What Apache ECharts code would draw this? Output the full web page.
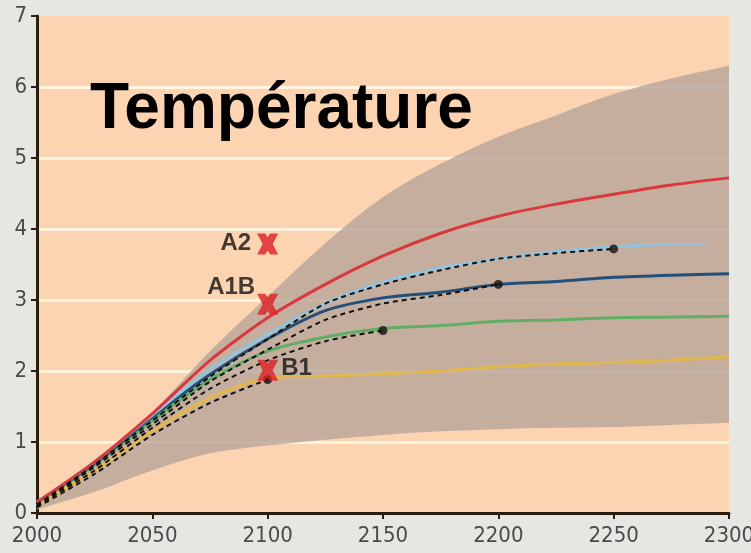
<!DOCTYPE html>
<html lang="fr">
<head>
    <meta charset="UTF-8">
    <title>Température</title>
    <script src="https://cdn.jsdelivr.net/npm/echarts@6/dist/echarts.min.js"></script>
    <style>
        * { margin: 0; padding: 0; box-sizing: border-box; }
        body { background: #e6e6e2; }
        #chart { width: 751px; height: 553px; }
    </style>
</head>
<body>
    <div id="chart"></div>
    <script>
        // données
        const years = [2000, 2025, 2050, 2075, 2100, 2125, 2150, 2175, 2200, 2225, 2250, 2275, 2300];
        const bandLow  = [0.05, 0.3, 0.6, 0.84, 0.95, 1.03, 1.1, 1.15, 1.18, 1.2, 1.21, 1.24, 1.27];
        const bandHigh = [0.18, 0.75, 1.42, 2.28, 3.05, 3.8, 4.45, 4.92, 5.3, 5.6, 5.9, 6.12, 6.3];

        const red      = [0.15, 0.72, 1.4, 2.15, 2.75, 3.22, 3.62, 3.94, 4.18, 4.35, 4.49, 4.62, 4.72];
        const darkBlue = [0.15, 0.7, 1.35, 1.95, 2.45, 2.85, 3.03, 3.11, 3.22, 3.26, 3.32, 3.35, 3.37];
        const green    = [0.15, 0.68, 1.3, 1.88, 2.28, 2.48, 2.6, 2.64, 2.7, 2.72, 2.75, 2.76, 2.77];
        const yellow   = [0.1, 0.6, 1.15, 1.62, 1.9, 1.93, 1.96, 2.0, 2.06, 2.1, 2.12, 2.15, 2.2];

        const lightBlueYears = [2000, 2025, 2050, 2075, 2100, 2125, 2150, 2175, 2200, 2225, 2250, 2275, 2290];
        const lightBlue = [0.15, 0.72, 1.38, 2.02, 2.52, 2.95, 3.25, 3.45, 3.58, 3.68, 3.75, 3.78, 3.78];

        const dash2250 = [0.12, 0.68, 1.3, 1.92, 2.45, 2.95, 3.22, 3.42, 3.58, 3.66, 3.72];
        const dash2200 = [0.1, 0.65, 1.25, 1.85, 2.3, 2.72, 2.95, 3.07, 3.22];
        const dash2150 = [0.1, 0.6, 1.2, 1.75, 2.15, 2.42, 2.57];
        const dash2100 = [0.08, 0.55, 1.1, 1.55, 1.88];

        const scenarios = ['A2', 'A1B', 'B1'];
        const scenarioYear = 2100;
        const scenarioValues = [3.79, 2.94, 2.01];

        function pairs(xs, ys) {
            return ys.map((v, i) => [xs[i], v]);
        }

        // courbe de Catmull-Rom en segments de Bézier (points déjà en pixels)
        function splinePath(pts, moveFirst) {
            let d = (moveFirst ? 'M' : 'L') + pts[0][0] + ',' + pts[0][1];
            for (let i = 0; i < pts.length - 1; i++) {
                const p0 = pts[Math.max(i - 1, 0)];
                const p1 = pts[i];
                const p2 = pts[i + 1];
                const p3 = pts[Math.min(i + 2, pts.length - 1)];
                const c1 = [p1[0] + (p2[0] - p0[0]) / 6, p1[1] + (p2[1] - p0[1]) / 6];
                const c2 = [p2[0] - (p3[0] - p1[0]) / 6, p2[1] - (p3[1] - p1[1]) / 6];
                d += 'C' + c1.join(',') + ' ' + c2.join(',') + ' ' + p2.join(',');
            }
            return d;
        }

        const axisColor = '#2b1d0e';
        const labelFont = "'Liberation Sans Narrow', 'DejaVu Sans Condensed', sans-serif";
        const crossPath = 'path://M0,0 L3.8,0 L5,1.8 L6.2,0 L10,0 L7.4,5 L10,10 L6.2,10 L5,8.2 L3.8,10 L0,10 L2.6,5 Z';

        function dashed(name, vals) {
            return {
                name: name,
                type: 'line',
                smooth: 0.25,
                symbol: 'none',
                z: 4,
                data: pairs(years, vals),
                lineStyle: { color: '#111', width: 2, type: [5, 4] }
            };
        }

        function curve(name, xs, vals, color) {
            return {
                name: name,
                type: 'line',
                smooth: 0.25,
                symbol: 'none',
                z: 3,
                data: pairs(xs, vals),
                lineStyle: { color: color, width: 3 }
            };
        }

        const dashes = [dash2100, dash2150, dash2200, dash2250];
        const dots = dashes.map(d => [years[d.length - 1], d[d.length - 1]]);

        const chart = echarts.init(document.getElementById('chart'));
        chart.setOption({
            backgroundColor: '#e6e6e2',
            animation: false,
            grid: {
                left: 37, right: 22, top: 16, bottom: 40,
                containLabel: false, outerBoundsMode: 'none',
                show: true, backgroundColor: '#fcd4b2', borderWidth: 0
            },
            graphic: [{
                type: 'text',
                left: 90,
                top: 78,
                z: 10,
                style: {
                    text: 'Température',
                    font: "bold 64px 'Liberation Sans', Arial, sans-serif",
                    fill: '#000'
                }
            }],
            xAxis: {
                type: 'value',
                min: 2000, max: 2300, interval: 50,
                axisLine: { show: true, lineStyle: { color: axisColor, width: 3 } },
                axisTick: { show: true, length: 6, lineStyle: { color: axisColor, width: 2 } },
                axisLabel: {
                    color: '#4a4a4a', fontSize: 22, fontFamily: labelFont, margin: 12,
                    formatter: v => String(v)
                },
                splitLine: { show: false }
            },
            yAxis: {
                type: 'value',
                min: 0, max: 7, interval: 1,
                axisLine: { show: true, lineStyle: { color: axisColor, width: 3 } },
                axisTick: { show: true, length: 6, lineStyle: { color: axisColor, width: 2 } },
                axisLabel: { color: '#4a4a4a', fontSize: 22, fontFamily: labelFont, margin: 10 },
                splitLine: {
                    show: true, showMinLine: false, showMaxLine: false,
                    lineStyle: { color: '#fff4de', width: 3 }
                }
            },
            series: [
                {
                    // plage d'incertitude
                    name: 'plage',
                    type: 'custom',
                    z: 2,
                    clip: true,
                    data: [0],
                    renderItem: function (params, api) {
                        const top = years.map((y, i) => api.coord([y, bandHigh[i]]));
                        const bottom = years.map((y, i) => api.coord([y, bandLow[i]])).reverse();
                        const d = splinePath(top, true) + splinePath(bottom, false) + 'Z';
                        return {
                            type: 'path',
                            shape: { pathData: d },
                            style: { fill: 'rgba(184, 164, 154, 0.8)' }
                        };
                    }
                },
                curve('jaune', years, yellow, '#e2b84c'),
                curve('vert', years, green, '#5fae63'),
                curve('bleu foncé', years, darkBlue, '#23507a'),
                curve('bleu clair', lightBlueYears, lightBlue, '#92c4de'),
                curve('A2', years, red, '#d8393c'),
                dashed('d2100', dash2100),
                dashed('d2150', dash2150),
                dashed('d2200', dash2200),
                dashed('d2250', dash2250),
                {
                    name: 'points',
                    type: 'scatter',
                    symbol: 'circle',
                    symbolSize: 9,
                    z: 5,
                    data: dots,
                    itemStyle: { color: '#111' }
                },
                {
                    name: 'scénarios',
                    type: 'scatter',
                    symbol: crossPath,
                    symbolSize: 21,
                    z: 6,
                    data: scenarios.map((s, i) => ({
                        name: s,
                        value: [scenarioYear, scenarioValues[i]],
                        label: i === 0 ? { position: 'left', distance: 6, offset: [0, -1] }
                             : i === 1 ? { position: 'left', distance: 2, offset: [0, -17] }
                             : { position: 'right', distance: 3, offset: [0, -2] }
                    })),
                    itemStyle: { color: '#dd1f24' },
                    label: {
                        show: true,
                        formatter: '{b}',
                        color: '#111',
                        fontSize: 24,
                        fontWeight: 'bold',
                        fontFamily: "'Liberation Sans', Arial, sans-serif"
                    }
                }
            ]
        });
    </script>
</body>
</html>
